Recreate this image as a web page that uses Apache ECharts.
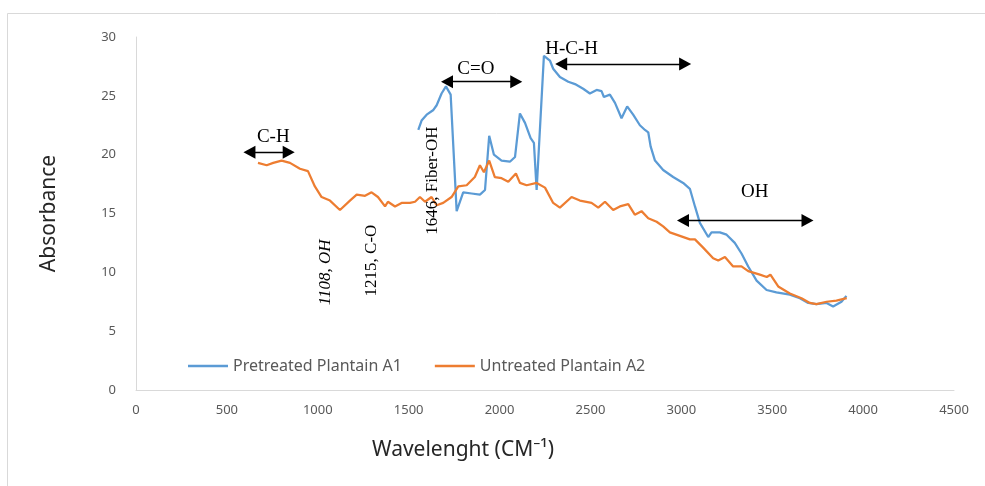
<!DOCTYPE html>
<html>
<head>
<meta charset="utf-8">
<script src="https://cdn.jsdelivr.net/npm/echarts@6/dist/echarts.min.js"></script>
<style>
  html, body { margin: 0; padding: 0; background: #ffffff; }
  #chart { width: 985px; height: 486px; }
</style>
</head>
<body>
<div id="chart"></div>
<script>
// FTIR spectra: wavenumber (cm-1) and absorbance for each sample
const pretreatedX = [1553, 1571, 1599, 1636, 1654, 1681, 1705, 1731, 1764, 1800, 1846, 1892, 1920, 1943, 1969, 2011, 2057, 2085, 2112, 2140, 2171, 2189, 2204, 2244, 2277, 2295, 2332, 2378, 2415, 2460, 2497, 2534, 2561, 2574, 2607, 2635, 2671, 2702, 2735, 2772, 2800, 2818, 2831, 2855, 2900, 2955, 3010, 3047, 3075, 3102, 3148, 3166, 3212, 3249, 3294, 3331, 3368, 3414, 3469, 3523, 3597, 3652, 3698, 3743, 3799, 3835, 3881, 3908];
const pretreatedY = [22.1, 22.9, 23.4, 23.8, 24.2, 25.2, 25.8, 25.1, 15.2, 16.8, 16.7, 16.6, 17.0, 21.6, 20.0, 19.5, 19.4, 19.8, 23.5, 22.7, 21.4, 21.0, 17.0, 28.4, 28.0, 27.3, 26.6, 26.2, 26.0, 25.6, 25.2, 25.5, 25.4, 24.9, 25.1, 24.4, 23.1, 24.1, 23.4, 22.5, 22.1, 21.9, 20.7, 19.5, 18.7, 18.1, 17.6, 17.1, 15.6, 14.2, 13.0, 13.4, 13.4, 13.2, 12.5, 11.6, 10.5, 9.3, 8.5, 8.3, 8.1, 7.8, 7.4, 7.3, 7.4, 7.1, 7.5, 8.0];

const untreatedX = [671, 719, 755, 801, 847, 902, 946, 984, 1021, 1067, 1122, 1177, 1214, 1260, 1296, 1331, 1370, 1386, 1425, 1461, 1507, 1535, 1562, 1590, 1626, 1654, 1690, 1736, 1773, 1819, 1864, 1892, 1914, 1943, 1974, 2011, 2048, 2090, 2112, 2149, 2204, 2250, 2295, 2332, 2396, 2442, 2506, 2543, 2580, 2625, 2662, 2708, 2744, 2781, 2818, 2864, 2900, 2937, 2992, 3047, 3075, 3120, 3175, 3203, 3240, 3285, 3331, 3368, 3432, 3470, 3490, 3533, 3597, 3661, 3707, 3743, 3799, 3853, 3910];
const untreatedY = [19.3, 19.1, 19.3, 19.5, 19.3, 18.8, 18.6, 17.3, 16.4, 16.1, 15.3, 16.1, 16.6, 16.5, 16.8, 16.4, 15.6, 16.0, 15.6, 15.9, 15.9, 16.0, 16.4, 16.0, 16.4, 15.7, 15.9, 16.4, 17.3, 17.4, 18.1, 19.1, 18.5, 19.5, 18.1, 18.0, 17.7, 18.4, 17.6, 17.4, 17.6, 17.2, 15.9, 15.5, 16.4, 16.1, 15.9, 15.5, 16.0, 15.3, 15.6, 15.8, 14.9, 15.2, 14.6, 14.3, 13.9, 13.4, 13.1, 12.8, 12.8, 12.1, 11.2, 11.0, 11.3, 10.5, 10.5, 10.1, 9.8, 9.6, 9.8, 8.8, 8.2, 7.8, 7.4, 7.3, 7.5, 7.6, 7.8];

// Functional-group bands (double-headed arrows) in axis units
const bandNames = ['C-H', 'C=O', 'H-C-H', 'OH'];
const bandFrom = [624, 1711, 2339, 3009];
const bandTo = [840, 2092, 3021, 3694];
const bandLevel = [20.2, 26.2, 27.7, 14.4];
const bandTextX = [755, 1870, 2396, 3404];
const bandTextY = [21.5, 27.3, 29.0, 16.8];

// Peak assignments written vertically
const peakNotes = ['1108, OH', '1215, C-O', '1646, Fiber-OH'];
const peakNoteX = [1040, 1298, 1634];
const peakNoteY = [10.0, 11.0, 17.8];

const zip = (xs, ys) => xs.map((x, i) => [x, ys[i]]);

const serif = '"Liberation Serif", "DejaVu Serif", serif';
const sans = '"Noto Sans", "Open Sans", sans-serif';
const grey = '#595959';

const arrowLines = bandNames.map((n, i) => [
  { coord: [bandFrom[i], bandLevel[i]] },
  { coord: [bandTo[i], bandLevel[i]] }
]);

const notePoints = bandNames.map((n, i) => ({
  name: n,
  coord: [bandTextX[i], bandTextY[i]],
  label: { formatter: n }
})).concat(peakNotes.map((n, i) => ({
  name: n,
  coord: [peakNoteX[i], peakNoteY[i]],
  label: { formatter: n, rotate: 90, fontSize: 17, fontStyle: i === 0 ? 'italic' : 'normal' }
})));

const chart = echarts.init(document.getElementById('chart'), null, { renderer: 'canvas' });

chart.setOption({
  animation: false,
  backgroundColor: '#ffffff',
  graphic: [{
    type: 'rect',
    shape: { x: 7.5, y: 13.5, width: 1000, height: 500 },
    style: { fill: 'none', stroke: '#d9d9d9', lineWidth: 1 },
    silent: true
  }],
  grid: { left: 136, right: 31, top: 37, bottom: 96 },
  legend: {
    data: ['Pretreated Plantain A1', 'Untreated Plantain A2'],
    icon: 'rect',
    left: 183,
    top: 353,
    itemWidth: 40,
    itemHeight: 2.5,
    itemGap: 33,
    textStyle: { fontFamily: sans, fontSize: 16, color: grey }
  },
  xAxis: {
    type: 'value',
    min: 0, max: 4500, interval: 500,
    name: 'Wavelenght (CM⁻¹)',
    nameLocation: 'middle',
    nameGap: 50,
    nameTextStyle: { fontFamily: sans, fontSize: 21, color: '#262626', padding: [0, 164, 0, 0] },
    axisLine: { lineStyle: { color: '#d9d9d9', width: 1 } },
    axisTick: { show: false },
    splitLine: { show: false },
    axisLabel: { fontFamily: sans, fontSize: 13, color: grey, margin: 14, formatter: v => String(v) }
  },
  yAxis: {
    type: 'value',
    min: 0, max: 30, interval: 5,
    name: 'Absorbance',
    nameLocation: 'middle',
    nameGap: 76,
    nameTextStyle: { fontFamily: sans, fontSize: 21, color: '#262626' },
    axisLine: { show: true, lineStyle: { color: '#d9d9d9', width: 1 } },
    axisTick: { show: false },
    splitLine: { show: false },
    axisLabel: { fontFamily: sans, fontSize: 13, color: grey, margin: 20 }
  },
  series: [
    {
      name: 'Pretreated Plantain A1',
      type: 'line',
      data: zip(pretreatedX, pretreatedY),
      symbol: 'none',
      color: '#5B9BD5',
      lineStyle: { width: 2.25, color: '#5B9BD5' }
    },
    {
      name: 'Untreated Plantain A2',
      type: 'line',
      data: zip(untreatedX, untreatedY),
      symbol: 'none',
      color: '#ED7D31',
      lineStyle: { width: 2.25, color: '#ED7D31' },
      markLine: {
        silent: true,
        symbol: ['triangle', 'triangle'],
        symbolSize: [13, 12],
        label: { show: false },
        lineStyle: { color: '#000000', width: 1.3, type: 'solid' },
        emphasis: { disabled: true },
        data: arrowLines
      },
      markPoint: {
        silent: true,
        symbol: 'circle',
        symbolSize: 0,
        label: {
          show: true,
          position: 'inside',
          fontFamily: serif,
          fontSize: 19,
          color: '#000000'
        },
        data: notePoints
      }
    }
  ]
});
</script>
</body>
</html>
